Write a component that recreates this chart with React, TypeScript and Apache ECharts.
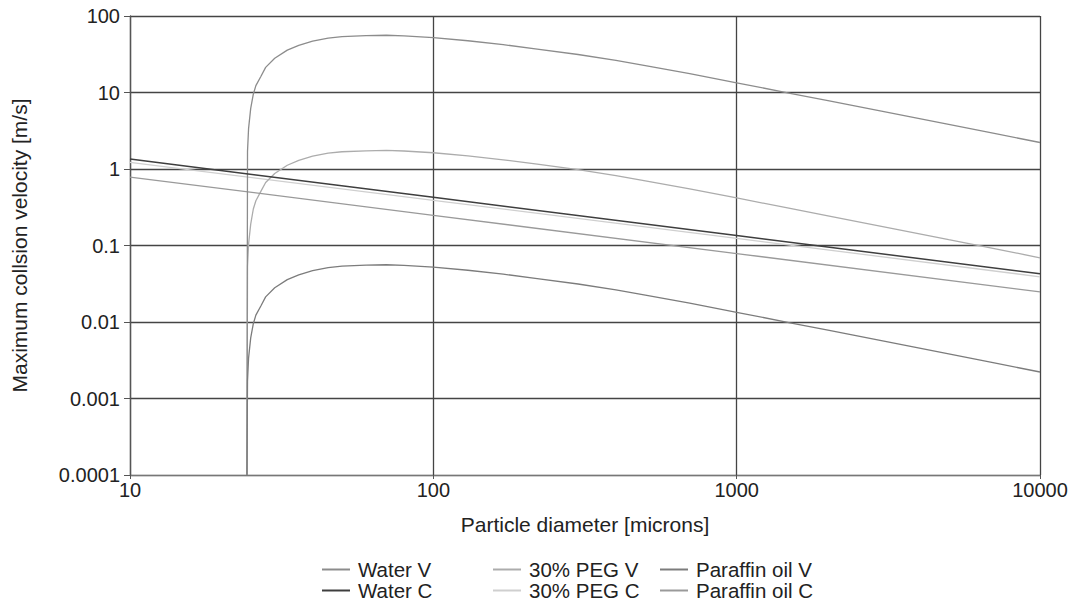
import React, { useEffect, useRef } from "react";
import * as echarts from "echarts";

// Particle diameters [microns] for the V curves
const diameters = [24.3, 24.4, 24.6, 25, 25.5, 26, 27, 28, 30, 33, 36, 40, 45, 50, 60, 70, 80, 100, 130, 170, 220, 300, 400, 500, 700, 1000, 1500, 2000, 3000, 5000, 7000, 10000];
const waterV = [0.0001, 1.7, 3.4, 6.2, 9.5, 12.3, 16.2, 21.3, 28, 35.8, 41.4, 47, 51.5, 53.8, 55.4, 56, 54.9, 52.1, 47.5, 42.2, 37, 31.4, 26.3, 22.4, 17.6, 13.4, 9.77, 7.81, 5.69, 3.82, 2.94, 2.22];
const pegV = [0.0001, 0.053, 0.105, 0.19, 0.3, 0.385, 0.51, 0.665, 0.875, 1.12, 1.3, 1.47, 1.61, 1.68, 1.73, 1.75, 1.72, 1.63, 1.48, 1.32, 1.16, 0.98, 0.82, 0.7, 0.55, 0.418, 0.305, 0.244, 0.178, 0.119, 0.092, 0.069];
const paraffinV = [0.0001, 0.0017, 0.0034, 0.0062, 0.0095, 0.0123, 0.0162, 0.0213, 0.028, 0.0358, 0.0414, 0.047, 0.0515, 0.0538, 0.0554, 0.056, 0.0549, 0.0521, 0.0475, 0.0422, 0.037, 0.0314, 0.0263, 0.0224, 0.0176, 0.0134, 0.00977, 0.00781, 0.00569, 0.00382, 0.00294, 0.00222];

// Diameters for the C lines
const cDiameters = [10, 100, 1000, 10000];
const waterC = [1.35, 0.427, 0.135, 0.0427];
const pegC = [1.22, 0.39, 0.124, 0.039];
const paraffinC = [0.785, 0.248, 0.0785, 0.0248];

const seriesNames = ["Water V", "Water C", "30% PEG V", "30% PEG C", "Paraffin oil V", "Paraffin oil C"];

const FONT = "'Liberation Sans', Arial, sans-serif";

function pairs(xs: number[], ys: number[]) {
  return xs.map((x, i) => [x, ys[i]]);
}

function fmtLog(v: number) {
  const e = Math.round(Math.log10(v));
  if (e >= 0) return String(Math.pow(10, e));
  return Math.pow(10, e).toFixed(-e);
}

export default function App() {
  const ref = useRef<HTMLDivElement>(null);
  useEffect(() => {
    if (!ref.current) return;
    const chart = echarts.init(ref.current, undefined, { renderer: "svg" });
    const mk = (name: string, xs: number[], ys: number[], color: string, width: number, z: number) => ({
      name,
      type: "line",
      data: pairs(xs, ys),
      symbol: "none",
      showSymbol: false,
      z,
      lineStyle: { color, width },
      itemStyle: { color },
    });
    const legendBase = {
      orient: "vertical",
      top: 559,
      padding: 0,
      itemWidth: 28,
      itemHeight: 2,
      itemGap: 0,
      icon: "rect",
      textStyle: { fontFamily: FONT, fontSize: 20.5, color: "#222", lineHeight: 21, padding: [0, 0, 0, 3] },
    };
    chart.setOption({
      animation: false,
      backgroundColor: "#fff",
      grid: { left: 130, right: 41, top: 16, bottom: 135 },
      legend: [
        { ...legendBase, left: 322, data: [seriesNames[0], seriesNames[1]] },
        { ...legendBase, left: 493, data: [seriesNames[2], seriesNames[3]] },
        { ...legendBase, left: 660, data: [seriesNames[4], seriesNames[5]] },
      ],
      xAxis: {
        type: "log",
        logBase: 10,
        min: 10,
        max: 10000,
        name: "Particle diameter [microns]",
        nameLocation: "middle",
        nameGap: 39,
        nameTextStyle: { fontFamily: FONT, fontSize: 21, color: "#222" },
        axisLine: { show: true, lineStyle: { color: "#777", width: 1.2 } },
        axisTick: { show: true, length: 4, lineStyle: { color: "#555" } },
        axisLabel: { fontFamily: FONT, fontSize: 20, color: "#222", margin: 5, formatter: fmtLog },
        splitLine: { show: true, lineStyle: { color: "#444", width: 1.3 } },
        minorTick: { show: false },
      },
      yAxis: {
        type: "log",
        logBase: 10,
        min: 0.0001,
        max: 100,
        name: "Maximum collsion velocity [m/s]",
        nameLocation: "middle",
        nameGap: 100,
        nameTextStyle: { fontFamily: FONT, fontSize: 21, color: "#222" },
        axisLine: { show: true, lineStyle: { color: "#555", width: 1.3 } },
        axisTick: { show: true, length: 6, lineStyle: { color: "#555" } },
        axisLabel: { fontFamily: FONT, fontSize: 20, color: "#222", margin: 10, formatter: fmtLog },
        splitLine: { show: true, lineStyle: { color: "#444", width: 1.3 } },
      },
      series: [
        mk("30% PEG C", cDiameters, pegC, "#cfcfcf", 1.3, 2),
        mk("30% PEG V", diameters, pegV, "#acacac", 1.3, 3),
        mk("Paraffin oil C", cDiameters, paraffinC, "#9a9a9a", 1.3, 3),
        mk("Water V", diameters, waterV, "#8c8c8c", 1.3, 4),
        mk("Paraffin oil V", diameters, paraffinV, "#7c7c7c", 1.3, 4),
        mk("Water C", cDiameters, waterC, "#3e3e3e", 1.5, 5),
      ],
    });
    return () => chart.dispose();
  }, []);
  return <div ref={ref} style={{ position: "fixed", left: 0, top: 0, width: 1081, height: 610 }} />;
}
